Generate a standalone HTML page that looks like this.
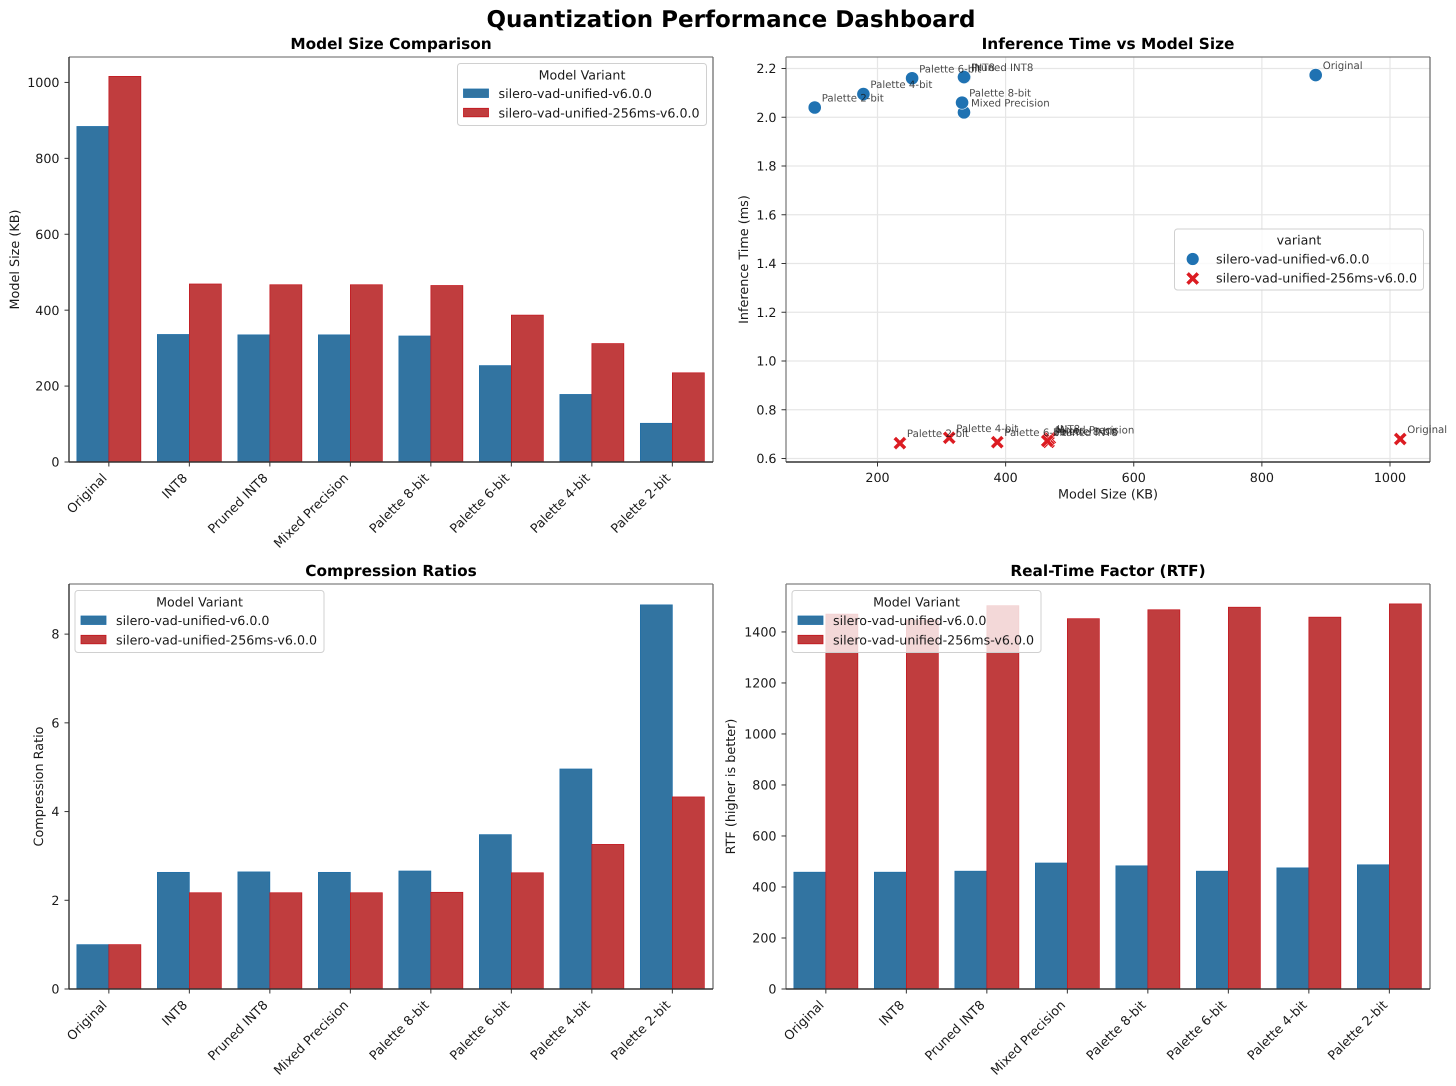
<!DOCTYPE html>
<html>
<head>
<meta charset="utf-8">
<title>Quantization Performance Dashboard</title>
<style>
html,body{margin:0;padding:0;background:#fff}
svg{display:block}
text{font-family:"DejaVu Sans","Liberation Sans",sans-serif;fill:#1a1a1a;text-rendering:geometricPrecision}
</style>
</head>
<body>
<svg id="dash" xmlns="http://www.w3.org/2000/svg" width="1456" height="1086" viewBox="0 0 1456 1086">
<text x="731" y="27" text-anchor="middle" font-size="23" font-weight="700" style="fill:#000">Quantization Performance Dashboard</text>
</svg>
<script>
const categories = ['Original','INT8','Pruned INT8','Mixed Precision','Palette 8-bit','Palette 6-bit','Palette 4-bit','Palette 2-bit'];
const seriesNames = ['silero-vad-unified-v6.0.0','silero-vad-unified-256ms-v6.0.0'];
const sizeBase = [884,336,335,335,332,254,178,102];
const sizeShort = [1016,469,467,467,465,387,312,235];
const ratioBase = [1,2.63,2.64,2.63,2.66,3.48,4.96,8.66];
const ratioShort = [1,2.17,2.17,2.17,2.18,2.62,3.26,4.33];
const rtfBase = [458,458,462,494,483,462,475,487];
const rtfShort = [1470,1447,1503,1452,1487,1497,1458,1510];
const scatterSizeBase = [884,336,335,335,332,254,178,102];
const scatterSizeShort = [1016,469,467,467,465,387,312,235];
const inferBase = [2.173,2.165,2.165,2.02,2.06,2.16,2.095,2.04];
const inferShort = [0.68,0.682,0.668,0.678,0.672,0.667,0.685,0.663];
const sizeTicks = [0,200,400,600,800,1000];
const ratioTicks = [0,2,4,6,8];
const rtfTicks = [0,200,400,600,800,1000,1200,1400];
const scatterXTicks = [200,400,600,800,1000];
const scatterYTicks = ['0.6','0.8','1.0','1.2','1.4','1.6','1.8','2.0','2.2'];

const NS = 'http://www.w3.org/2000/svg';
const root = document.getElementById('dash');
const BLUE_FILL = '#3274a1', BLUE_EDGE = '#1f6fa8', RED_FILL = '#c03d3e', RED_EDGE = '#c4141c';
const TICK_FS = 12.7, LABEL_FS = 12.8, LEG_FS = 12.65;

function el(tag, attrs, parent, txt) {
  const e = document.createElementNS(NS, tag);
  for (const k in attrs) e.setAttribute(k, attrs[k]);
  if (txt !== undefined) e.textContent = txt;
  (parent || root).appendChild(e);
  return e;
}
function linear(d0, d1, r0, r1) {
  return v => r0 + (v - d0) * (r1 - r0) / (d1 - d0);
}

function drawFrame(g, box) {
  const t = el('line', {x1:box.l, x2:box.r, y1:box.t, y2:box.t, stroke:'#808080', 'stroke-width':1.3}, g);
  
  
  const r = el('line', {x1:box.r, x2:box.r, y1:box.t, y2:box.b, stroke:'#707070', 'stroke-width':1.3}, g);
  
  
  const l = el('line', {x1:box.l, x2:box.l, y1:box.t, y2:box.b, stroke:box.leftColor || '#808080', 'stroke-width':1.3}, g);
  
  
  const b = el('line', {x1:box.l, x2:box.r, y1:box.b, y2:box.b, stroke:'#333', 'stroke-width':1.4}, g);
  
  
}

function yAxis(g, box, ticks, y) {
  ticks.forEach(tv => {
    const py = y(+tv);
    const m = el('line', {x1:box.l - 4.5, x2:box.l, y1:py, y2:py, stroke:'#333', 'stroke-width':1}, g);
    
    
    const lab = el('text', {x:box.l - 9.5, y:py + 4.6, 'text-anchor':'end', 'font-size':TICK_FS}, g, tv);
    
    
  });
}

function categoryAxis(g, box, x) {
  categories.forEach((c, i) => {
    const px = x(i);
    const m = el('line', {x1:px, x2:px, y1:box.b, y2:box.b + 4.5, stroke:'#333', 'stroke-width':1}, g);
    
    
    const ax = px - 1.2, ay = box.b + 16.8;
    const lab = el('text', {x:ax, y:ay, 'text-anchor':'end', 'font-size':LABEL_FS, transform:'rotate(-45 ' + ax + ' ' + ay + ')'}, g, c);
    
    
  });
}

function titles(g, box, title, ylabel, ylabelX) {
  const cx = (box.l + box.r) / 2, cy = (box.t + box.b) / 2;
  const t = el('text', {x:cx, y:box.t - 8, 'text-anchor':'middle', 'font-size':15.35, 'font-weight':700, style:'fill:#000'}, g, title);
  
  
  const yl = el('text', {x:ylabelX, y:cy, 'text-anchor':'middle', 'font-size':LABEL_FS, transform:'rotate(-90 ' + ylabelX + ' ' + cy + ')'}, g, ylabel);
  
  
}

function barLegend(g, lx, ly) {
  const bg = el('rect', {x:lx, y:ly, width:249, height:62, rx:3, fill:'#fff', 'fill-opacity':0.8, stroke:'#d0d0d0', 'stroke-width':1}, g);
  
  
  const tt = el('text', {x:lx + 124.5, y:ly + 16, 'text-anchor':'middle', 'font-size':LEG_FS}, g, 'Model Variant');
  
  
  seriesNames.forEach((name, i) => {
    const rowY = ly + 25.5 + i * 19.3;
    const sw = el('rect', {x:lx + 6, y:rowY, width:25, height:8.5, fill:i ? RED_FILL : BLUE_FILL, stroke:i ? RED_EDGE : BLUE_EDGE, 'stroke-width':0.8}, g);
    
    
    const lb = el('text', {x:lx + 41, y:rowY + 9, 'font-size':LEG_FS}, g, name);
    
    
  });
}

function barChart(cfg) {
  const g = el('g', {});
  
  
  const box = cfg.box;
  const x = linear(-0.5, 7.5, box.l - 0.4, box.r - 0.4);
  const y = linear(0, cfg.ymax, box.b, box.t);
  const bw = (box.r - box.l) / 8 * 0.4 - 0.2;
  categories.forEach((c, i) => {
    const b0 = el('rect', {x:x(i) - bw, y:y(cfg.a[i]), width:bw, height:box.b - y(cfg.a[i]), fill:BLUE_FILL, stroke:BLUE_EDGE, 'stroke-width':0.7}, g);
    
    
    const b1 = el('rect', {x:x(i), y:y(cfg.b[i]), width:bw, height:box.b - y(cfg.b[i]), fill:RED_FILL, stroke:RED_EDGE, 'stroke-width':0.7}, g);
    
    
  });
  drawFrame(g, box);
  yAxis(g, box, cfg.ticks, y);
  categoryAxis(g, box, x);
  titles(g, box, cfg.title, cfg.ylabel, cfg.ylabelX);
  barLegend(g, cfg.legend[0], cfg.legend[1]);
}

barChart({name:'model-size-chart', box:{l:69,r:713,t:57,b:462,leftColor:'#222'}, ymax:1067, a:sizeBase, b:sizeShort, ticks:sizeTicks,
  title:'Model Size Comparison', ylabel:'Model Size (KB)', ylabelX:19, legend:[457.5,63.5]});
barChart({name:'compression-ratio-chart', box:{l:69,r:713,t:584,b:989,leftColor:'#222'}, ymax:9.13, a:ratioBase, b:ratioShort, ticks:ratioTicks,
  title:'Compression Ratios', ylabel:'Compression Ratio', ylabelX:43, legend:[75,590.5]});
barChart({name:'rtf-chart', box:{l:786,r:1430,t:584,b:989}, ymax:1588, a:rtfBase, b:rtfShort, ticks:rtfTicks,
  title:'Real-Time Factor (RTF)', ylabel:'RTF (higher is better)', ylabelX:735, legend:[792,590.5]});

/* scatter */
(function () {
  const g = el('g', {});
  
  
  const box = {l:786, r:1430, t:57, b:462};
  const x = linear(200, 1000, 877.5, 1390);
  const y = linear(0.6, 2.2, 458.5, 68.5);
  scatterXTicks.forEach(tv => {
    const gl = el('line', {x1:x(tv), x2:x(tv), y1:box.t, y2:box.b, stroke:'#e6e6e6', 'stroke-width':1.2}, g);
    
    
  });
  scatterYTicks.forEach(tv => {
    const gl = el('line', {x1:box.l, x2:box.r, y1:y(+tv), y2:y(+tv), stroke:'#e6e6e6', 'stroke-width':1.2}, g);
    
    
  });
  drawFrame(g, box);
  scatterXTicks.forEach(tv => {
    const m = el('line', {x1:x(tv), x2:x(tv), y1:box.b, y2:box.b + 4.5, stroke:'#333', 'stroke-width':1}, g);
    
    
    const lab = el('text', {x:x(tv), y:box.b + 20, 'text-anchor':'middle', 'font-size':TICK_FS}, g, String(tv));
    
    
  });
  yAxis(g, box, scatterYTicks, y);
  titles(g, box, 'Inference Time vs Model Size', 'Inference Time (ms)', 748);
  const xt = el('text', {x:1108, y:498.5, 'text-anchor':'middle', 'font-size':LABEL_FS}, g, 'Model Size (KB)');
  
  

  const XPATH = 'M-6.6,-3.9 L-3.9,-6.6 L0,-2.7 L3.9,-6.6 L6.6,-3.9 L2.7,0 L6.6,3.9 L3.9,6.6 L0,2.7 L-3.9,6.6 L-6.6,3.9 L-2.7,0 Z';
  categories.forEach((c, i) => {
    const px = x(scatterSizeBase[i]), py = y(inferBase[i]);
    const p = el('circle', {cx:px, cy:py, r:6.6, fill:'#1f72b2', stroke:'#fff', 'stroke-width':0.6}, g);
    
    
  });
  categories.forEach((c, i) => {
    const px = x(scatterSizeShort[i]), py = y(inferShort[i]);
    const p = el('path', {d:XPATH, transform:'translate(' + px + ' ' + py + ')', fill:'#dc1c22', stroke:'#fff', 'stroke-width':0.5}, g);
    
    
  });
  categories.forEach((c, i) => {
    const a = el('text', {x:x(scatterSizeBase[i]) + 7, y:y(inferBase[i]) - 6, 'font-size':10.2, 'fill-opacity':0.8}, g, c);
    
    
    const b = el('text', {x:x(scatterSizeShort[i]) + 7, y:y(inferShort[i]) - 6, 'font-size':10.2, 'fill-opacity':0.8}, g, c);
    
    
  });

  const bg = el('rect', {x:1174.5, y:229, width:249, height:61, rx:3, fill:'#fff', 'fill-opacity':0.8, stroke:'#d0d0d0', 'stroke-width':1}, g);
  
  
  const tt = el('text', {x:1299, y:244.5, 'text-anchor':'middle', 'font-size':LEG_FS}, g, 'variant');
  
  
  const m0 = el('circle', {cx:1192.7, cy:259, r:6.4, fill:'#1f72b2', stroke:'#fff', 'stroke-width':0.6}, g);
  
  
  const m1 = el('path', {d:XPATH, transform:'translate(1192.7 278.5)', fill:'#dc1c22', stroke:'#fff', 'stroke-width':0.5}, g);
  
  
  seriesNames.forEach((name, i) => {
    const lb = el('text', {x:1216, y:263.5 + i * 19.2, 'font-size':LEG_FS}, g, name);
    
    
  });
})();
</script>
</body>
</html>
